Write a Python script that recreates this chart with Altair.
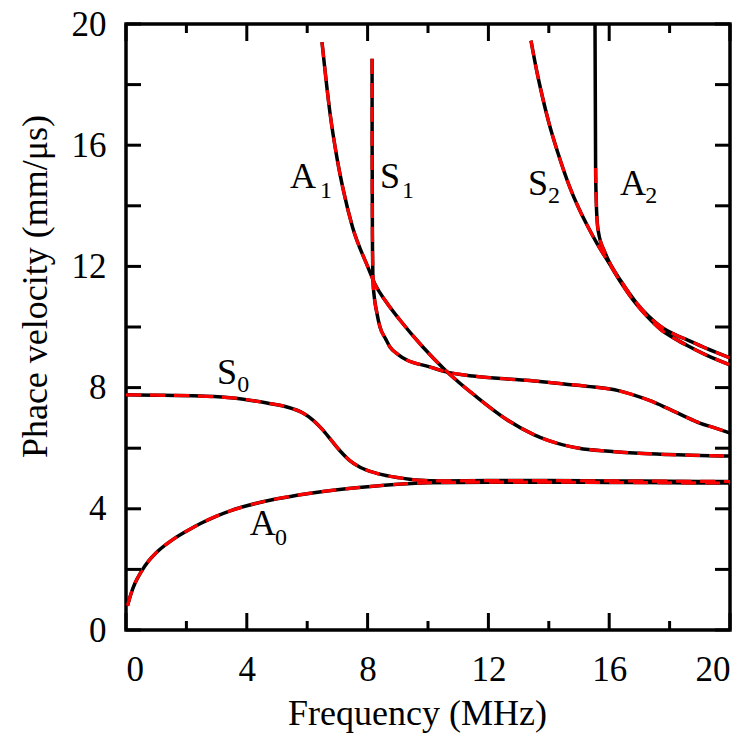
import altair as alt
import pandas as pd

# ---- dispersion curves (frequency MHz, phase velocity mm/us) ----
A0_f = [0.05, 0.15, 0.3, 0.5, 0.75, 1.0, 1.5, 2.0, 2.5, 3.0, 3.5, 4.0, 5.0, 6.0, 7.0, 8.0, 9.0, 10.0, 12.0, 14.0, 16.0, 18.0, 20.0]
A0_v = [0.8, 1.15, 1.55, 1.92, 2.28, 2.55, 2.95, 3.26, 3.53, 3.76, 3.95, 4.1, 4.33, 4.5, 4.63, 4.73, 4.81, 4.86, 4.88, 4.88, 4.87, 4.86, 4.85]

S0_f = [0.0, 1.0, 2.45, 3.54, 4.67, 5.33, 5.86, 6.2, 6.5, 6.8, 7.1, 7.4, 7.75, 8.31, 9.07, 9.63, 10.5, 12.0, 14.0, 16.0, 18.0, 20.0]
S0_v = [7.76, 7.75, 7.72, 7.66, 7.49, 7.36, 7.16, 6.92, 6.62, 6.26, 5.9, 5.6, 5.37, 5.17, 5.02, 4.95, 4.92, 4.93, 4.93, 4.92, 4.91, 4.9]

A1_f = [6.49, 6.75, 7.0, 7.2, 7.5, 8.0, 8.25, 8.6, 9.07, 9.83, 10.6, 11.6, 12.6, 13.5, 14.0, 15.0, 16.0, 17.0, 18.0, 19.0, 20.0]
A1_v = [19.4, 17.1, 15.5, 14.5, 13.3, 12.0, 11.4, 10.85, 10.23, 9.34, 8.55, 7.7, 6.95, 6.45, 6.25, 6.0, 5.9, 5.83, 5.79, 5.76, 5.74]

S1_f = [8.148, 8.15, 8.16, 8.17, 8.18, 8.22, 8.3, 8.41, 8.6, 8.74, 9.0, 9.3, 10.0, 10.6, 11.5, 12.4, 13.5, 14.5, 15.5, 16.3, 16.8, 17.4, 17.9, 18.5, 19.0, 19.5, 20.0]
S1_v = [18.85, 16.0, 13.0, 12.0, 11.5, 11.0, 10.5, 10.0, 9.6, 9.34, 9.1, 8.91, 8.7, 8.52, 8.38, 8.3, 8.22, 8.12, 8.02, 7.9, 7.76, 7.55, 7.33, 7.05, 6.83, 6.67, 6.5]

S2_f = [13.41, 13.6, 13.8, 14.0, 14.3, 14.7, 15.0, 15.3, 15.6, 16.0, 16.4, 16.9, 17.3, 17.7, 18.2, 18.6, 19.2, 20.0]
S2_v = [19.45, 18.45, 17.55, 16.75, 15.75, 14.6, 13.9, 13.3, 12.75, 12.1, 11.45, 10.75, 10.3, 9.92, 9.6, 9.38, 9.08, 8.75]

A2_f = [15.53, 15.55, 15.57, 15.6, 15.65, 15.72, 15.82, 16.0, 16.4, 16.9, 17.3, 17.7, 18.2, 18.6, 19.2, 20.0]
A2_v = [20.0, 15.25, 14.2, 13.5, 13.1, 12.8, 12.55, 12.15, 11.5, 10.8, 10.36, 10.02, 9.74, 9.57, 9.3, 8.98]
A2_dash_start = 15.25  # red dashed curve of A2 begins below this velocity

# ---- labels ----
lab_main = ["A", "S", "S", "A", "S", "A"]
lab_sub = ["1", "1", "2", "2", "0", "0"]
lab_x = [5.43, 8.41, 13.31, 16.36, 3.01, 4.1]
lab_y = [14.59, 14.59, 14.36, 14.36, 8.12, 3.14]
sub_x = [6.42, 9.14, 13.97, 17.19, 3.68, 4.93]
sub_y = [14.26, 14.26, 14.09, 14.09, 7.85, 2.8]

x_major = [0, 4, 8, 12, 16, 20]
x_minor = [2, 6, 10, 14, 18]
y_ticks = [0, 2, 4, 6, 8, 10, 12, 14, 16, 18, 20]

curves = {"A0": (A0_f, A0_v), "S0": (S0_f, S0_v), "A1": (A1_f, A1_v),
          "S1": (S1_f, S1_v), "S2": (S2_f, S2_v), "A2": (A2_f, A2_v)}
rows = []
for name, (fs, vs) in curves.items():
    for i, (f, v) in enumerate(zip(fs, vs)):
        rows.append({"mode": name, "i": i, "f": f, "v": v,
                     "dash": not (name == "A2" and v > A2_dash_start)})
df = pd.DataFrame(rows)
df_red = df[df["dash"]]

W, H = 604, 606
FONT = "Liberation Serif"

xs = alt.Scale(domain=[0, 20], nice=False)
ys = alt.Scale(domain=[0, 20], nice=False)

xax = alt.Axis(values=x_major, ticks=False, tickSize=0, grid=False, domain=False,
               labelFont=FONT, labelFontSize=35, labelColor="black", labelPadding=22,
               title="Frequency (MHz)", titleFont=FONT, titleFontSize=36, titleFontWeight="normal",
               titleColor="black", titleX=291, titleY=94, titleBaseline="alphabetic", titleAlign="center")
yax = alt.Axis(values=x_major, ticks=False, tickSize=0, grid=False, domain=False,
               labelFont=FONT, labelFontSize=35, labelColor="black", labelPadding=20,
               title="Phace velocity (mm/μs)", titleFont=FONT, titleFontSize=36, titleFontWeight="normal",
               titleColor="black", titleX=-80, titleY=262, titleAngle=-90,
               titleBaseline="alphabetic", titleAlign="center")

black = alt.Chart(df).mark_line(color="black", strokeWidth=3.5, clip=True, interpolate="monotone").encode(
    x=alt.X("f:Q", scale=xs, axis=xax),
    y=alt.Y("v:Q", scale=ys, axis=yax),
    detail="mode:N",
    order="i:Q",
)
red = alt.Chart(df_red).mark_line(color="#ff0000", strokeWidth=3.2, strokeDash=[15, 9], clip=True,
                                  interpolate="monotone").encode(
    x=alt.X("f:Q", scale=xs),
    y=alt.Y("v:Q", scale=ys),
    detail="mode:N",
    order="i:Q",
)

lab_df = pd.DataFrame({"t": lab_main, "x": lab_x, "y": lab_y})
sub_df = pd.DataFrame({"t": lab_sub, "x": sub_x, "y": sub_y})
labels = alt.Chart(lab_df).mark_text(font=FONT, fontSize=36, align="left", baseline="alphabetic", color="black").encode(
    x=alt.X("x:Q", scale=xs), y=alt.Y("y:Q", scale=ys), text="t:N")
subs = alt.Chart(sub_df).mark_text(font=FONT, fontSize=24, align="left", baseline="alphabetic", color="black").encode(
    x=alt.X("x:Q", scale=xs), y=alt.Y("y:Q", scale=ys), text="t:N")

xmaj_df = pd.DataFrame({"f": x_major})
xmin_df = pd.DataFrame({"f": x_minor})
yt_df = pd.DataFrame({"v": y_ticks})

tick_style = dict(color="black", strokeWidth=3)
xmaj_b = alt.Chart(xmaj_df).mark_rule(**tick_style).encode(
    x=alt.X("f:Q", scale=xs), y=alt.value(H), y2=alt.value(H - 17))
xmaj_t = alt.Chart(xmaj_df).mark_rule(**tick_style).encode(
    x=alt.X("f:Q", scale=xs), y=alt.value(0), y2=alt.value(17))
xmin_b = alt.Chart(xmin_df).mark_rule(**tick_style).encode(
    x=alt.X("f:Q", scale=xs), y=alt.value(H), y2=alt.value(H - 9))
xmin_t = alt.Chart(xmin_df).mark_rule(**tick_style).encode(
    x=alt.X("f:Q", scale=xs), y=alt.value(0), y2=alt.value(9))
yt_l = alt.Chart(yt_df).mark_rule(**tick_style).encode(
    y=alt.Y("v:Q", scale=ys), x=alt.value(0), x2=alt.value(15))
yt_r = alt.Chart(yt_df).mark_rule(**tick_style).encode(
    y=alt.Y("v:Q", scale=ys), x=alt.value(W), x2=alt.value(W - 15))

chart = alt.layer(black, red, labels, subs, xmaj_b, xmaj_t, xmin_b, xmin_t, yt_l, yt_r).properties(
    width=W, height=H,
    autosize=alt.AutoSizeParams(type="none"),
    padding={"left": 126, "top": 24, "right": 24, "bottom": 104},
    background="white",
).configure_view(stroke="black", strokeWidth=3.5)

chart.save("out.html", embed_options={"renderer": "svg", "actions": False})
